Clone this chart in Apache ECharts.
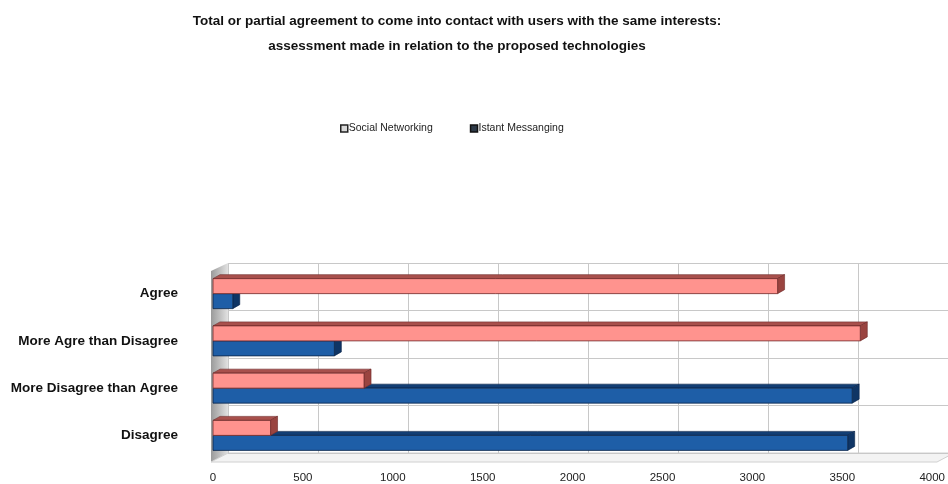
<!DOCTYPE html>
<html>
<head>
<meta charset="utf-8">
<script src="https://cdn.jsdelivr.net/npm/echarts@6/dist/echarts.min.js"></script>
<style>
  html, body { margin: 0; padding: 0; background: #ffffff; }
  #chart { width: 948px; height: 484px; }
</style>
</head>
<body>
<div id="chart"></div>
<script>
// Answer categories, top to bottom
const categories = ['Agree', 'More Agre than Disagree', 'More Disagree than Agree', 'Disagree'];
// Number of respondents per answer, for each technology
const socialNetworking = [3140, 3600, 840, 320];
const istantMessanging = [110, 675, 3555, 3530];
// Value axis
const axisMax = 4000;
const axisStep = 500;

const FONT = '"Liberation Sans", Arial, sans-serif';

// Extruded horizontal bar: front face plus top and end faces pushed back in depth.
function bar3d(slot, colors) {
  const BAR_H = 15, DX = 7, DY = -4;
  return function (params, api) {
    const cat = api.value(1);
    const start = api.coord([0, cat]);
    const end = api.coord([api.value(0), cat]);
    const y0 = start[1] - BAR_H + slot * BAR_H;
    const y1 = y0 + BAR_H;
    const x0 = start[0], x1 = end[0];
    return {
      type: 'group',
      children: [
        { type: 'polygon', shape: { points: [[x0, y0], [x0 + DX, y0 + DY], [x1 + DX, y0 + DY], [x1, y0]] },
          style: { fill: colors.top, stroke: colors.edge, lineWidth: 0.6 } },
        { type: 'polygon', shape: { points: [[x1, y0], [x1 + DX, y0 + DY], [x1 + DX, y1 + DY], [x1, y1]] },
          style: { fill: colors.side, stroke: colors.edge, lineWidth: 0.6 } },
        { type: 'rect', shape: { x: x0, y: y0, width: x1 - x0, height: BAR_H },
          style: { fill: colors.front, stroke: colors.edge, lineWidth: 0.8 } }
      ]
    };
  };
}

const pinkFaces = { front: '#ff938e', top: '#a8504c', side: '#9a4440', edge: '#6e2a28' };
const blueFaces = { front: '#1e5ea7', top: '#123e74', side: '#0f3565', edge: '#0a2448' };

const chart = echarts.init(document.getElementById('chart'));

chart.setOption({
  backgroundColor: '#ffffff',
  animation: false,
  title: {
    text: 'Total or partial agreement to come into contact with users with the same interests:\nassessment made in relation to the proposed technologies',
    left: 452,
    textAlign: 'center',
    top: 4,
    textStyle: { fontFamily: FONT, fontSize: 13.5, fontWeight: 'bold', color: '#111', lineHeight: 25 }
  },
  legend: {
    top: 118,
    left: 335,
    itemWidth: 7,
    itemHeight: 7,
    itemGap: 37,
    icon: 'rect',
    textStyle: { fontFamily: FONT, fontSize: 10.5, color: '#222', padding: [0, 0, 0, -4] },
    data: [
      { name: 'Social Networking', icon: 'rect', itemStyle: { color: '#d9d9d9', borderColor: '#222', borderWidth: 1.5 } },
      { name: 'Istant Messanging', icon: 'rect', itemStyle: { color: '#2e3a48', borderColor: '#111', borderWidth: 1.5 } }
    ]
  },
  grid: [
    // back wall of the plot box
    { left: 228, top: 263, width: 726, height: 190 },
    // front plane carrying the bars and labels
    { left: 213, top: 270, width: 726, height: 189 }
  ],
  xAxis: [
    {
      gridIndex: 0, type: 'value', min: 0, max: axisMax, interval: axisStep,
      axisLine: { show: false }, axisTick: { show: false }, axisLabel: { show: false },
      splitLine: { show: true, lineStyle: { color: '#c8c8c8', width: 1 } }
    },
    {
      gridIndex: 1, type: 'value', min: 0, max: axisMax, interval: axisStep,
      axisLine: { show: false }, axisTick: { show: false },
      splitLine: { show: false },
      axisLabel: { margin: 13, fontFamily: FONT, fontSize: 11.5, color: '#222', formatter: v => String(v) }
    }
  ],
  yAxis: [
    {
      gridIndex: 0, type: 'category', data: categories, inverse: true,
      axisLine: { show: false }, axisTick: { show: false }, axisLabel: { show: false },
      splitLine: { show: true, lineStyle: { color: '#c8c8c8', width: 1 } }
    },
    {
      gridIndex: 1, type: 'category', data: categories, inverse: true,
      axisLine: { show: false }, axisTick: { show: false },
      splitLine: { show: false },
      axisLabel: { margin: 35, fontFamily: FONT, fontSize: 13.5, fontWeight: 'bold', color: '#111' }
    }
  ],
  graphic: [
    // left side wall
    {
      type: 'polygon', z: 0,
      shape: { points: [[211, 271], [228, 263], [228, 453], [211, 462]] },
      style: {
        fill: new echarts.graphic.LinearGradient(0, 0, 1, 0, [
          { offset: 0, color: '#9a9a9a' }, { offset: 1, color: '#e2e2e2' }
        ])
      }
    },
    // floor
    {
      type: 'polygon', z: 0,
      shape: { points: [[211, 462], [228, 453], [954, 453], [937, 462]] },
      style: { fill: '#f3f3f3', stroke: '#d0d0d0', lineWidth: 1 }
    }
  ],
  series: [
    {
      name: 'Istant Messanging', type: 'custom', xAxisIndex: 1, yAxisIndex: 1,
      data: istantMessanging.map((v, i) => [v, i]),
      encode: { x: 0, y: 1 },
      itemStyle: { color: '#1e5ea7' },
      renderItem: bar3d(1, blueFaces)
    },
    {
      name: 'Social Networking', type: 'custom', xAxisIndex: 1, yAxisIndex: 1,
      data: socialNetworking.map((v, i) => [v, i]),
      encode: { x: 0, y: 1 },
      itemStyle: { color: '#ff938e' },
      renderItem: bar3d(0, pinkFaces)
    }
  ]
});
</script>
</body>
</html>
